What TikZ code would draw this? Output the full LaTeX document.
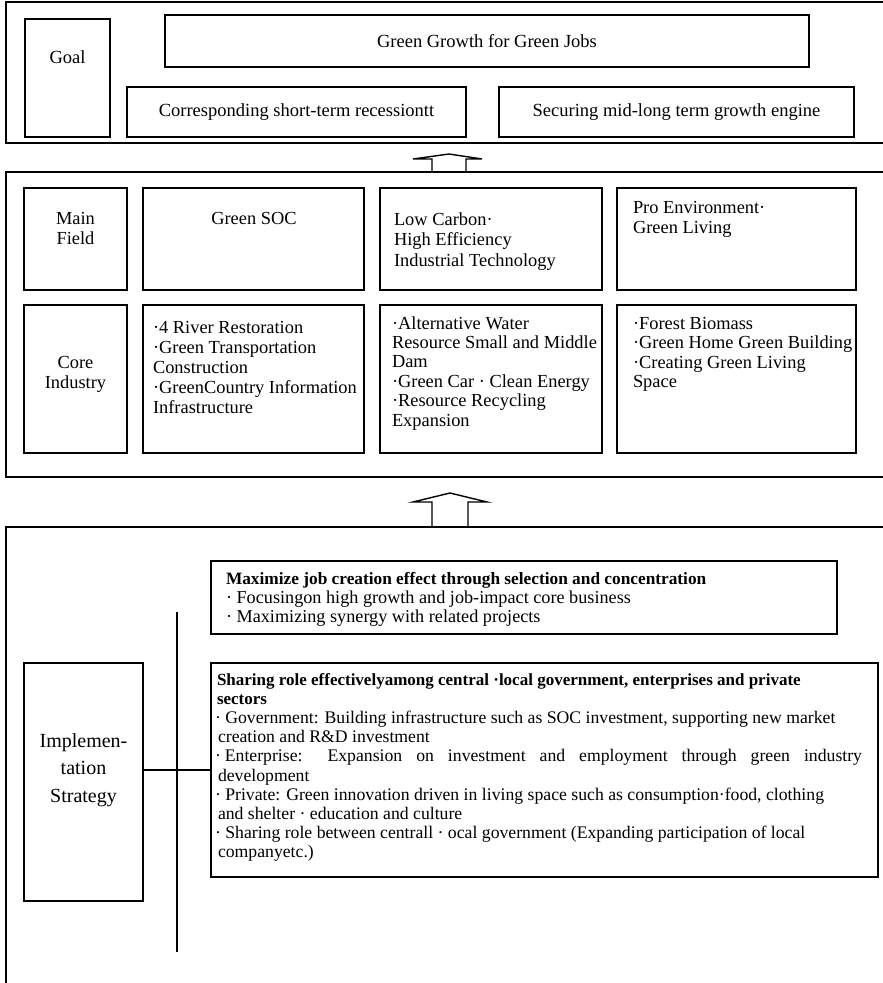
\documentclass[tikz,border=0pt]{standalone}
\usepackage{fontspec}
\setmainfont{Liberation Serif}
\newcommand{\fsz}[2]{\fontsize{#1}{#2}\selectfont}
\begin{document}
\begin{tikzpicture}[x=1pt,y=-1pt,
  frame/.style={draw, line width=1.1pt},
  boxnode/.style={draw, line width=1.3pt, anchor=north west, inner sep=0pt, outer sep=0pt},
  txt/.style={inner sep=0pt, outer sep=0pt},
  arrowline/.style={draw, line width=1.4pt, line join=miter},
  conn/.style={draw, line width=1.1pt}
]
\useasboundingbox (0,0) rectangle (883,983);
\clip (0,0) rectangle (883,983);

% ---------- top frame ----------
\draw[frame] (6,2) rectangle (900,143);
\node[boxnode, minimum width=85pt, minimum height=118pt] (goal) at (25,19) {};
\node[boxnode, minimum width=644pt, minimum height=52pt] (gg) at (165,15) {};
\node[boxnode, minimum width=339pt, minimum height=50pt] (corr) at (127,87) {};
\node[boxnode, minimum width=355pt, minimum height=50pt] (sec) at (499,87) {};
\node[txt] (goalt) at (67.5,57) {\fsz{18.5}{20}Goal};
\node[txt] (ggt) at (gg.center) {\fsz{18.5}{20}Green Growth for Green Jobs};
\node[txt] (corrt) at (corr.center) {\fsz{18.5}{20}Corresponding short-term recessiontt};
\node[txt] (sect) at (sec.center) {\fsz{18.5}{20}Securing mid-long term growth engine};

% ---------- arrow 1 ----------
\draw[arrowline] (432,172) -- (432,159) -- (413,159) -- (449,154) -- (482,159) -- (466,159) -- (466,172);

% ---------- middle frame ----------
\draw[frame] (6,172) rectangle (900,477);
\node[boxnode, minimum width=103pt, minimum height=102pt] (mf) at (24,188) {};
\node[boxnode, minimum width=221pt, minimum height=102pt] (soc) at (143,188) {};
\node[boxnode, minimum width=222pt, minimum height=102pt] (lc) at (380,188) {};
\node[boxnode, minimum width=239pt, minimum height=102pt] (pe) at (617,188) {};
\node[boxnode, minimum width=103pt, minimum height=148pt] (ci) at (24,305) {};
\node[boxnode, minimum width=221pt, minimum height=148pt] (ci2) at (143,305) {};
\node[boxnode, minimum width=222pt, minimum height=148pt] (ci3) at (380,305) {};
\node[boxnode, minimum width=239pt, minimum height=148pt] (ci4) at (617,305) {};

\node[txt, anchor=base] (mft) at (75.5,224) {\parbox[t]{100pt}{\centering\fsz{18.4}{20.5}Main\\Field}};
\node[txt, anchor=base] (soct) at (254,224) {\parbox[t]{200pt}{\centering\fsz{18.4}{20.5}Green SOC}};
\node[txt, anchor=base west] (lct) at (394,225) {\parbox[t]{300pt}{\raggedright\fsz{18.4}{20.5}Low Carbon·\\High Efficiency\\Industrial Technology}};
\node[txt, anchor=base west] (pet) at (633,213) {\parbox[t]{300pt}{\raggedright\fsz{18.4}{20}Pro Environment·\\Green Living}};
\node[txt, anchor=base] (cit) at (75.5,368) {\parbox[t]{100pt}{\centering\fsz{18.4}{20}Core\\Industry}};
\node[txt, anchor=base west] (ci2t) at (153,333) {\parbox[t]{300pt}{\raggedright\fsz{18.4}{20}·4 River Restoration\\·Green Transportation\\Construction\\·GreenCountry Information\\Infrastructure}};
\node[txt, anchor=base west] (ci3t) at (392,329) {\parbox[t]{300pt}{\raggedright\fsz{18.4}{19.4}·Alternative Water\\Resource Small and Middle\\Dam\\·Green Car · Clean Energy\\·Resource Recycling\\Expansion}};
\node[txt, anchor=base west] (ci4t) at (633,329) {\parbox[t]{300pt}{\raggedright\fsz{18.4}{19.5}·Forest Biomass\\·Green Home Green Building\\·Creating Green Living\\Space}};

% ---------- arrow 2 ----------
\draw[arrowline] (432,527) -- (432,502) -- (413,502) -- (450,493) -- (487,502) -- (468,502) -- (468,527);

% ---------- bottom frame ----------
\draw[frame] (900,527) -- (6,527) -- (6,995);
\draw[line width=2.2pt] (432,527) -- (468,527);
\draw[line width=2.5pt] (177,527) -- (211,527);

\node[boxnode, minimum width=119pt, minimum height=238pt] (impl) at (24,663) {};
\node[boxnode, minimum width=626pt, minimum height=73pt] (maxi) at (211,561) {};
\node[boxnode, minimum width=667pt, minimum height=214pt] (share) at (211,663) {};

\coordinate (vtop) at (177,612);
\coordinate (vbot) at (177,952);
\draw[conn] (vtop) -- (vbot);
\draw[conn] (impl.east |- share.west) -- (share.west);

\node[txt, anchor=base] (implt) at (83.5,747) {\parbox[t]{115pt}{\centering\fsz{20}{27.5}Implemen-\\tation\\Strategy}};

\node[txt, anchor=base west] (maxit) at (226,584) {\parbox[t]{700pt}{\raggedright\fsz{18.2}{19}{\fontsize{17.3}{19}\selectfont\bfseries Maximize job creation effect through selection and concentration}\\· Focusingon high growth and job-impact core business\\· Maximizing synergy with related projects}};

\node[txt, anchor=base west] (sharet) at (215,685) {\parbox[t]{700pt}{\raggedright\fsz{17.7}{19.2}%
{\fontsize{17}{19.2}\selectfont\bfseries
\hspace*{2pt}Sharing role effectivelyamong central ·local government, enterprises and private\\
\hspace*{2pt}sectors}\\
· Government: Building infrastructure such as SOC investment, supporting new market\\
\hspace*{3pt}creation and R\&D investment\\
\makebox[647pt][s]{·\hspace{4pt}Enterprise: Expansion on investment and employment through green industry}\\
\hspace*{3pt}development\\
· Private: Green innovation driven in living space such as consumption·food, clothing\\
\hspace*{3pt}and shelter · education and culture\\
· Sharing role between centrall · ocal government (Expanding participation of local\\
\hspace*{3pt}companyetc.)}};
\end{tikzpicture}
\end{document}
